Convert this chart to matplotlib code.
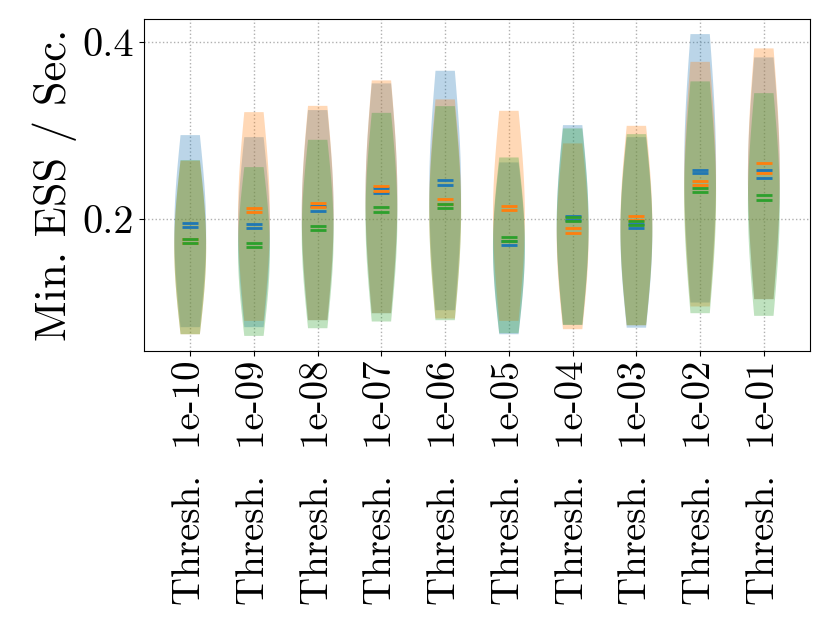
import numpy as np
import matplotlib
matplotlib.use("Agg")
import matplotlib.pyplot as plt

plt.rcParams['font.family'] = 'serif'
plt.rcParams['font.serif'] = ['cmr10']
plt.rcParams['mathtext.fontset'] = 'cm'
plt.rcParams['axes.formatter.use_mathtext'] = True

thresholds = ["1e-10", "1e-09", "1e-08", "1e-07", "1e-06",
              "1e-05", "1e-04", "1e-03", "1e-02", "1e-01"]

# series 0 (blue)
blue_lo = [0.0778, 0.0778, 0.0857, 0.0936, 0.0970, 0.0698, 0.0804, 0.0772, 0.1057, 0.1095]
blue_hi = [0.2951, 0.2928, 0.3234, 0.3536, 0.3679, 0.2642, 0.3064, 0.2928, 0.4094, 0.3830]
blue_mean = [0.1951, 0.1943, 0.2147, 0.2347, 0.2445, 0.1751, 0.2040, 0.1943, 0.2555, 0.2555]
blue_median = [0.1906, 0.1898, 0.2096, 0.2291, 0.2388, 0.1706, 0.1994, 0.1898, 0.2521, 0.2467]

# series 1 (orange)
orange_lo = [0.0698, 0.0849, 0.0857, 0.0936, 0.0876, 0.0849, 0.0755, 0.0800, 0.1012, 0.1095]
orange_hi = [0.2660, 0.3211, 0.3282, 0.3570, 0.3355, 0.3226, 0.2857, 0.3056, 0.3780, 0.3932]
orange_mean = [0.1774, 0.2121, 0.2181, 0.2377, 0.2226, 0.2151, 0.1895, 0.2040, 0.2430, 0.2634]
orange_median = [0.1728, 0.2076, 0.2136, 0.2320, 0.2175, 0.2102, 0.1849, 0.1994, 0.2391, 0.2521]

# series 2 (green)
green_lo = [0.0698, 0.0679, 0.0766, 0.0842, 0.0857, 0.0710, 0.0804, 0.0800, 0.0936, 0.0906]
green_hi = [0.2668, 0.2589, 0.2898, 0.3203, 0.3279, 0.2698, 0.3027, 0.2962, 0.3559, 0.3426]
green_mean = [0.1774, 0.1725, 0.1921, 0.2132, 0.2175, 0.1796, 0.2019, 0.1977, 0.2358, 0.2272]
green_median = [0.1728, 0.1680, 0.1875, 0.2083, 0.2125, 0.1751, 0.1974, 0.1932, 0.2309, 0.2215]

series = [
    (blue_lo, blue_hi, blue_mean, blue_median, "C0"),
    (orange_lo, orange_hi, orange_mean, orange_median, "C1"),
    (green_lo, green_hi, green_mean, green_median, "C2"),
]


def make_stats(lo, hi, mean, median):
    # smooth body between min and max, widest in the middle
    stats = []
    for a, b, m, md in zip(lo, hi, mean, median):
        coords = np.linspace(a, b, 100)
        mid = (a + b) / 2
        half = (b - a) / 2
        vals = np.exp(-0.5 * ((coords - mid) / half) ** 2)
        stats.append(dict(coords=coords, vals=vals, mean=m, median=md,
                          min=a, max=b, quantiles=[]))
    return stats


fig = plt.figure(figsize=(8.3, 6.23), dpi=100)
ax = fig.add_subplot(111)
fig.subplots_adjust(left=0.1735, right=0.976, bottom=0.4366, top=0.9695)

positions = np.arange(1, len(thresholds) + 1)
for lo, hi, mean, median, c in series:
    parts = ax.violin(make_stats(lo, hi, mean, median), positions=positions,
                      widths=0.5, showmeans=True, showmedians=True,
                      showextrema=False)
    for body in parts['bodies']:
        body.set_facecolor(c)
        body.set_edgecolor('none')
        body.set_linewidth(0)
        body.set_alpha(0.3)
    for key in ('cmeans', 'cmedians'):
        parts[key].set_color(c)
        parts[key].set_linewidth(2.0)

ax.set_xticks(positions)
ax.set_xticklabels(["Thresh.  " + t for t in thresholds], rotation=90, fontsize=28)
ax.set_yticks([0.2, 0.4])
ax.set_yticklabels(["0.2", "0.4"], fontsize=29)
ax.set_ylabel("Min. ESS / Sec.", fontsize=32)
ax.grid(True, linestyle=':', color='#b0b0b0', linewidth=1.0)
ax.set_axisbelow(True)

fig.savefig("out.png", dpi=100)
